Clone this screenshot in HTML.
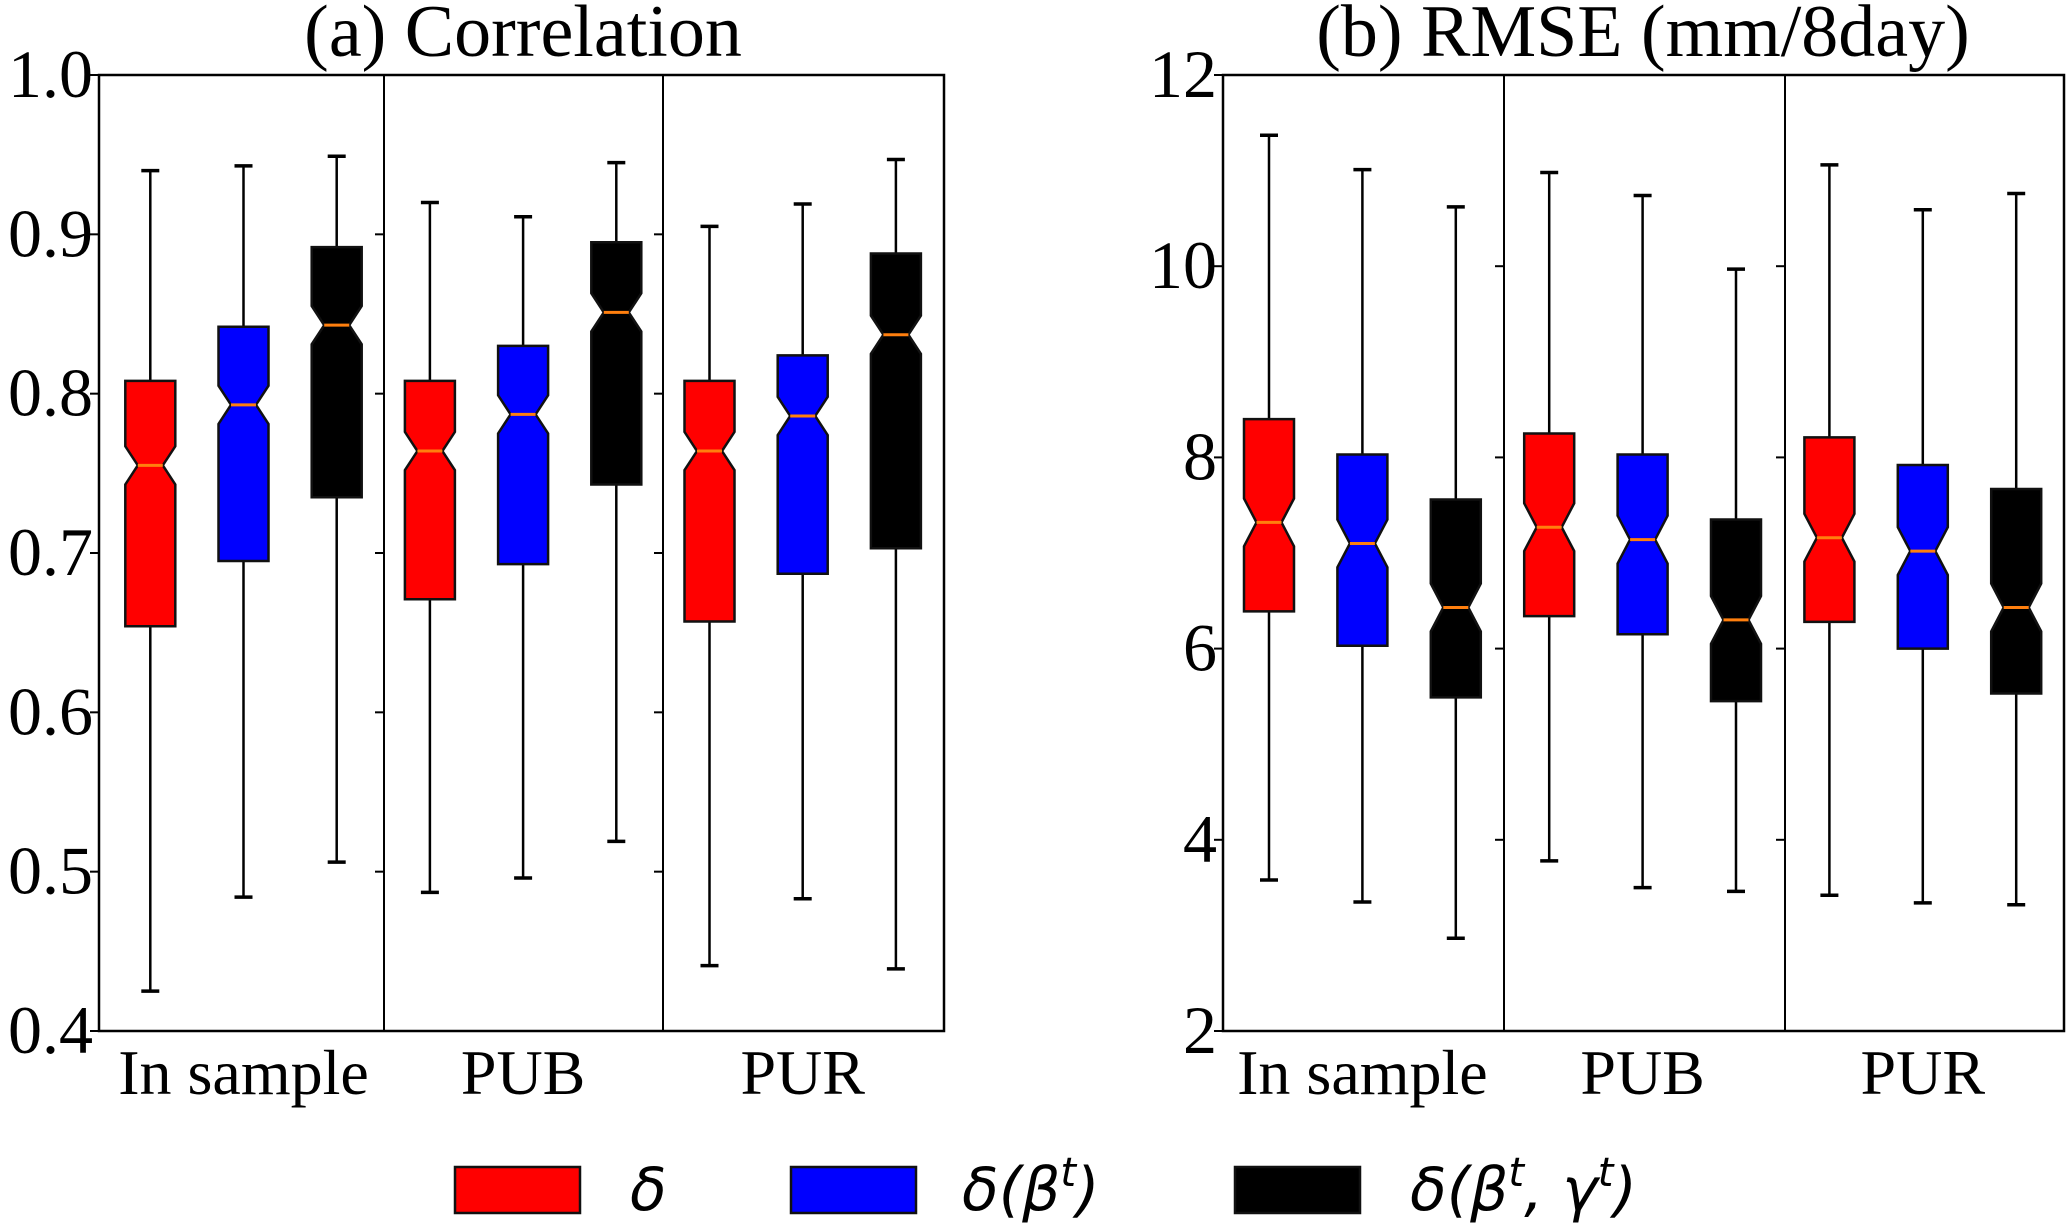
<!DOCTYPE html>
<html><head><meta charset="utf-8"><style>
html,body{margin:0;padding:0;background:#fff}
svg{display:block}
</style></head><body>
<svg id="chart" width="2067" height="1227" viewBox="0 0 2067 1227" xmlns="http://www.w3.org/2000/svg" font-family="'Liberation Serif', serif"></svg>
<script>
// Correlation panel data (per box: whisker low, q1, median, q3, whisker high)
const groups = ["In sample", "PUB", "PUR"];
const models = ["δ", "δ(β^t)", "δ(β^t, γ^t)"];
const modelColors = ["#ff0000", "#0000ff", "#000000"];
const corrLo  = [0.425, 0.484, 0.506, 0.487, 0.496, 0.519, 0.441, 0.483, 0.439];
const corrQ1  = [0.654, 0.695, 0.735, 0.671, 0.693, 0.743, 0.657, 0.687, 0.703];
const corrMed = [0.755, 0.793, 0.843, 0.764, 0.787, 0.851, 0.764, 0.786, 0.837];
const corrQ3  = [0.808, 0.842, 0.892, 0.808, 0.830, 0.895, 0.808, 0.824, 0.888];
const corrHi  = [0.940, 0.943, 0.949, 0.920, 0.911, 0.945, 0.905, 0.919, 0.947];
const corrNotch = [0.012, 0.012, 0.012, 0.012, 0.012, 0.012, 0.012, 0.012, 0.012];
const corrTicks = ["0.4", "0.5", "0.6", "0.7", "0.8", "0.9", "1.0"];
// RMSE panel data
const rmseLo  = [3.58, 3.35, 2.97, 3.78, 3.50, 3.46, 3.42, 3.34, 3.32];
const rmseQ1  = [6.39, 6.03, 5.49, 6.34, 6.15, 5.45, 6.28, 6.00, 5.53];
const rmseMed = [7.32, 7.10, 6.43, 7.27, 7.14, 6.30, 7.16, 7.02, 6.43];
const rmseQ3  = [8.40, 8.03, 7.56, 8.25, 8.03, 7.35, 8.21, 7.92, 7.67];
const rmseHi  = [11.37, 11.01, 10.62, 10.98, 10.74, 9.97, 11.06, 10.59, 10.76];
const rmseNotch = [0.25, 0.25, 0.25, 0.25, 0.25, 0.25, 0.25, 0.25, 0.25];
const rmseTicks = ["2", "4", "6", "8", "10", "12"];

const NS = "http://www.w3.org/2000/svg";
const svg = document.getElementById("chart");
function mk(tag, attrs, parent) {
  const e = document.createElementNS(NS, tag);
  for (const k in attrs) e.setAttribute(k, attrs[k]);
  (parent || svg).appendChild(e);
  return e;
}

function panel(cfg) {
  const g = mk("g", {});
  
  
  const top = 75, bottom = 1031;
  const y = v => bottom - (v - cfg.min) / (cfg.max - cfg.min) * (bottom - top);
  const x = i => cfg.firstCenter + i * cfg.step;
  const bw = 50, cap = 18;
  const frame = mk("rect", {x: cfg.left, y: top, width: cfg.right - cfg.left, height: bottom - top, fill: "none", stroke: "#000", "stroke-width": 2.5}, g);
  
  
  const axesX = [cfg.left, cfg.sep[0], cfg.sep[1]];
  axesX.forEach((ax, k) => {
    if (k > 0) {
      const s = mk("line", {x1: ax, x2: ax, y1: top, y2: bottom, stroke: "#000", "stroke-width": 2}, g);
      
      
    }
    cfg.ticks.forEach(t => {
      const v = parseFloat(t);
      const tl = mk("line", {x1: ax - 9, x2: ax, y1: y(v), y2: y(v), stroke: "#000", "stroke-width": 2}, g);
      
      
    });
  });
  cfg.ticks.forEach(t => {
    const v = parseFloat(t);
    const lab = mk("text", {x: cfg.left - 6, y: y(v) + 22, "text-anchor": "end", "font-size": 68}, g);
    lab.textContent = t;
    
    
  });
  const ti = mk("text", {x: cfg.titleX, y: 56, "text-anchor": "middle", "font-size": 74}, g);
  ti.textContent = cfg.title;
  
  
  groups.forEach((gr, k) => {
    const cx = x(k * 3 + 1);
    const t = mk("text", {x: cx, y: 1094, "text-anchor": "middle", "font-size": 64}, g);
    t.textContent = gr;
    
    
  });
  for (let i = 0; i < cfg.lo.length; i++) {
    const cx = x(i), col = modelColors[i % 3];
    const bg = mk("g", {}, g);
    
    
    mk("line", {x1: cx, x2: cx, y1: y(cfg.lo[i]), y2: y(cfg.q1[i]), stroke: "#000", "stroke-width": 2.5}, bg);
    mk("line", {x1: cx, x2: cx, y1: y(cfg.q3[i]), y2: y(cfg.hi[i]), stroke: "#000", "stroke-width": 2.5}, bg);
    mk("line", {x1: cx - cap / 2, x2: cx + cap / 2, y1: y(cfg.lo[i]), y2: y(cfg.lo[i]), stroke: "#000", "stroke-width": 3.5}, bg);
    mk("line", {x1: cx - cap / 2, x2: cx + cap / 2, y1: y(cfg.hi[i]), y2: y(cfg.hi[i]), stroke: "#000", "stroke-width": 3.5}, bg);
    const L = cx - bw / 2, R = cx + bw / 2, Li = cx - bw / 4, Ri = cx + bw / 4;
    const yq1 = y(cfg.q1[i]), yq3 = y(cfg.q3[i]), ym = y(cfg.med[i]);
    const nlo = y(cfg.med[i] - cfg.notch[i]), nhi = y(cfg.med[i] + cfg.notch[i]);
    const pts = [[L, yq1], [L, nlo], [Li, ym], [L, nhi], [L, yq3], [R, yq3], [R, nhi], [Ri, ym], [R, nlo], [R, yq1]];
    mk("polygon", {points: pts.map(p => p.join(",")).join(" "), fill: col, stroke: "#111", "stroke-width": 2.5}, bg);
    mk("line", {x1: Li, x2: Ri, y1: ym, y2: ym, stroke: "#ff7f0e", "stroke-width": 3}, bg);
  }
}

panel({name: "correlation-panel", title: "(a) Correlation", titleX: 523, left: 99, right: 944, sep: [384, 663],
  min: 0.4, max: 1.0, ticks: corrTicks, firstCenter: 150.3, step: 93.2,
  lo: corrLo, q1: corrQ1, med: corrMed, q3: corrQ3, hi: corrHi, notch: corrNotch});
panel({name: "rmse-panel", title: "(b) RMSE (mm/8day)", titleX: 1643, left: 1223, right: 2064, sep: [1504, 1785],
  min: 2, max: 12, ticks: rmseTicks, firstCenter: 1269, step: 93.4,
  lo: rmseLo, q1: rmseQ1, med: rmseMed, q3: rmseQ3, hi: rmseHi, notch: rmseNotch});

const lg = mk("g", {});


const patchX = [455, 791, 1235];
const textX = [630, 962, 1410];
const labelsHTML = [
  '<tspan>δ</tspan>',
  '<tspan>δ(β</tspan><tspan dy="-24" font-size="40">t</tspan><tspan dy="24">)</tspan>',
  '<tspan>δ(β</tspan><tspan dy="-24" font-size="40">t</tspan><tspan dy="24">, γ</tspan><tspan dy="-24" font-size="40">t</tspan><tspan dy="24">)</tspan>'
];
models.forEach((m, k) => {
  const e = mk("g", {}, lg);
  
  
  mk("rect", {x: patchX[k], y: 1167, width: 125, height: 46, fill: modelColors[k], stroke: "#111", "stroke-width": 2.5}, e);
  const t = mk("text", {x: textX[k], y: 1210, "font-size": 60, "font-style": "italic", "font-family": "'DejaVu Sans', sans-serif"}, e);
  t.innerHTML = labelsHTML[k];
});
</script>
</body></html>
